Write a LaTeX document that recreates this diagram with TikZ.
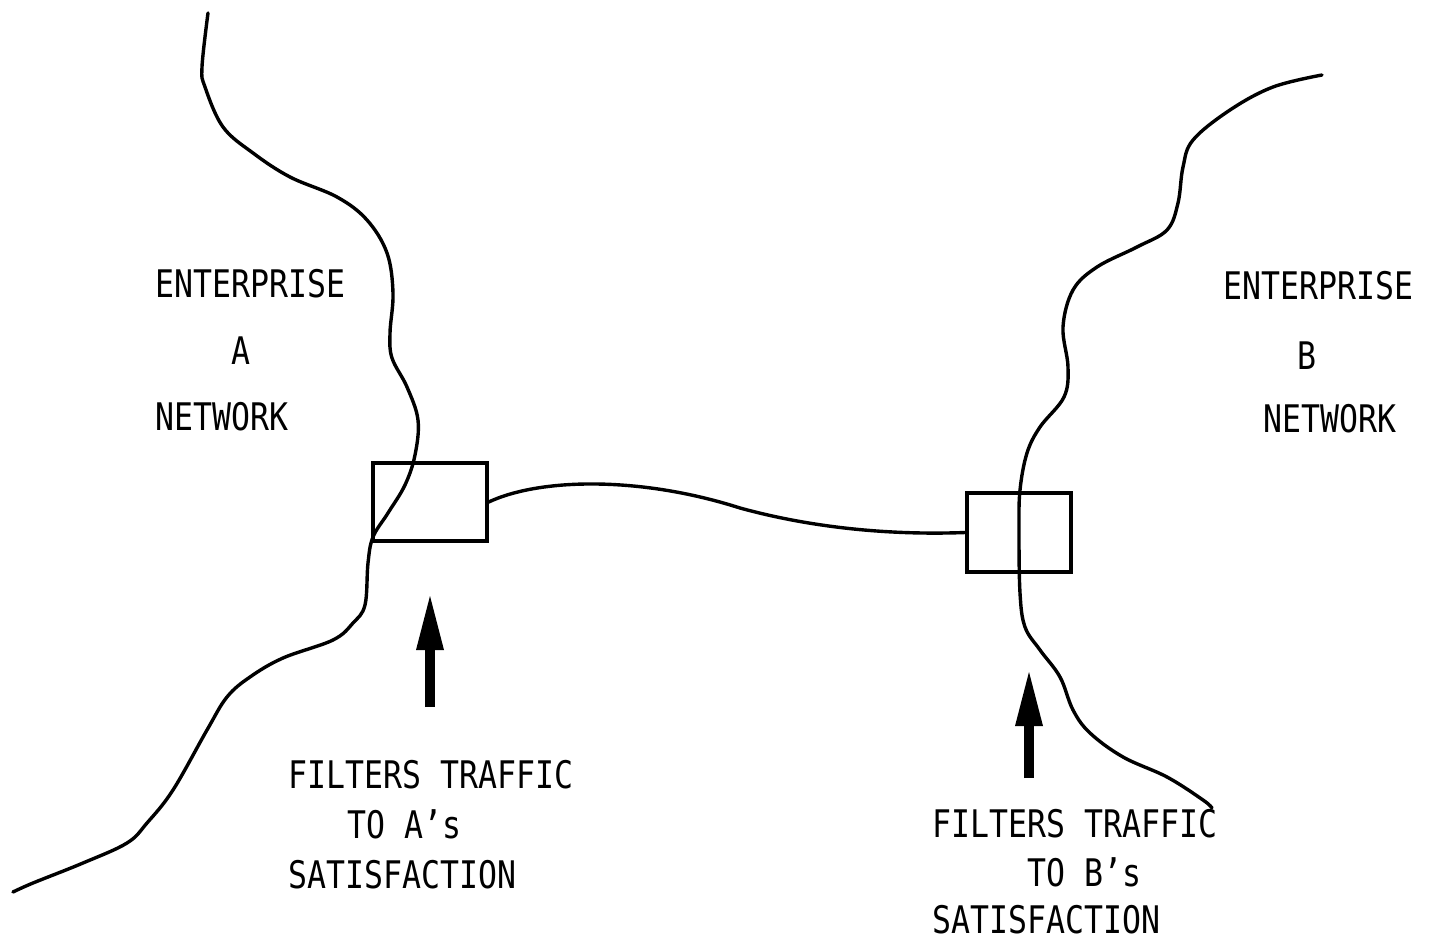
\documentclass[tikz,border=0pt]{standalone}
\usepackage{fontspec}
\newfontfamily\lpfont[FakeStretch=0.83]{DejaVu Sans Mono}
\usetikzlibrary{arrows.meta}
\tikzset{
  lbl/.style={anchor=base west, inner sep=0pt, font=\lpfont\fontsize{38}{40}\selectfont},
  border/.style={line width=3.4pt, line cap=round, line join=round},
  filterbox/.style={draw, line width=3.4pt, inner sep=0pt},
  link/.style={line width=3.4pt, line cap=round},
  pointer/.style={line width=10pt, -{Triangle[length=54pt, width=28pt, line width=0pt]}}
}
\begin{document}
\begin{tikzpicture}[x=1pt, y=-1pt]
\useasboundingbox (0,0) rectangle (1434,941);

% enterprise A boundary
\draw[border] plot[smooth, tension=0.6] coordinates {
  (208,13) (202,67) (205,87) (223,127) (253,153) (290,177) (337,197) (367,220)
  (387,253) (393,293) (390,333) (392,358) (407,387) (418,420) (415,455)
  (405,485) (388,513) (373,537) (368,563) (365,605) (353,623) (333,640)
  (283,658) (250,677) (227,697) (207,730) (173,790) (147,823) (127,843)
  (83,863) (33,883) (13,892)};

% enterprise B boundary
\draw[border] plot[smooth, tension=0.6] coordinates {
  (1322,75) (1273,87) (1230,110) (1193,140) (1183,167) (1178,203) (1167,230)
  (1137,247) (1097,267) (1073,290) (1063,327) (1068,367) (1064,397)
  (1040,427) (1027,453) (1020,490) (1019,530) (1020,593) (1025,627)
  (1040,650) (1060,677) (1073,710) (1090,733) (1123,757) (1167,777)
  (1203,800) (1212,808)};

% filter boxes
\node[filterbox, minimum width=114pt, minimum height=78pt] (boxA) at (430,502) {};
\node[filterbox, minimum width=104pt, minimum height=79pt] (boxB) at (1019,532.5) {};

% link between filters
\draw[link] (boxA.east) .. controls (540,478) and (640,476) .. (740,508)
  .. controls (820,530) and (900,535) .. (boxB.west);

% arrows
\coordinate (arrAfoot) at (430,707);
\coordinate (arrAtip) at (430,596);
\coordinate (arrBfoot) at (1029,778);
\coordinate (arrBtip) at (1029,672);
\draw[pointer] (arrAfoot) -- (arrAtip);
\draw[pointer] (arrBfoot) -- (arrBtip);

% labels enterprise A
\node[lbl] (entA1) at (155,297) {ENTERPRISE};
\node[lbl] (entA2) at (231,364) {A};
\node[lbl] (entA3) at (155,430) {NETWORK};

% labels enterprise B
\node[lbl] (entB1) at (1223,299) {ENTERPRISE};
\node[lbl] (entB2) at (1297,369) {B};
\node[lbl] (entB3) at (1263,432) {NETWORK};

% filter captions
\node[lbl] (capA1) at (288,788) {FILTERS TRAFFIC};
\node[lbl] (capA2) at (347,838) {TO A’s};
\node[lbl] (capA3) at (288,888) {SATISFACTION};

\node[lbl] (capB1) at (932,837) {FILTERS TRAFFIC};
\node[lbl] (capB2) at (1027,886) {TO B’s};
\node[lbl] (capB3) at (932,933) {SATISFACTION};
\end{tikzpicture}
\end{document}
